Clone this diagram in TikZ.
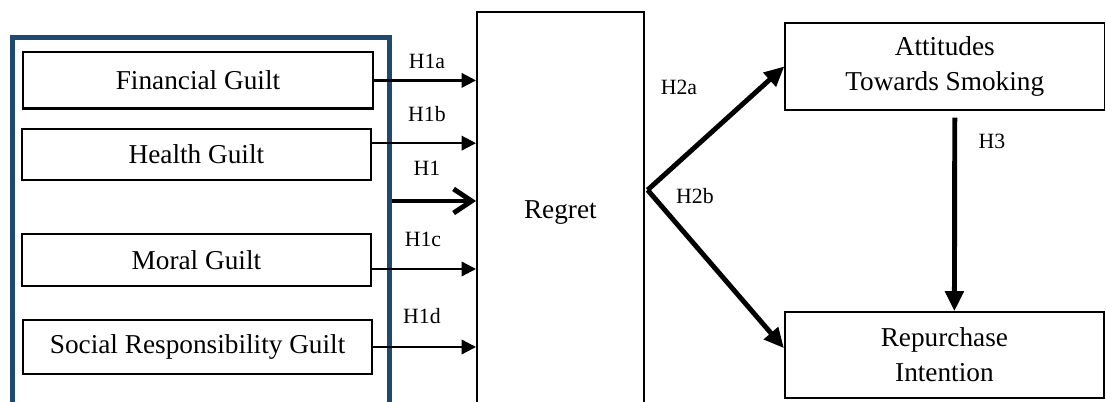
\documentclass[tikz,border=0pt]{standalone}
\usepackage{fontspec}
\setmainfont{Liberation Serif}
\usetikzlibrary{arrows.meta}
\definecolor{framecol}{RGB}{31,73,110}
\begin{document}
\begin{tikzpicture}[
		box/.style={draw, line width=1.2pt, inner sep=0pt, align=center, font=\fontsize{19.4}{25}\selectfont},
		hyp/.style={font=\fontsize{15.5}{18}\selectfont},
		link/.style={line width=1.6pt, -{Triangle[length=0.36cm,width=0.36cm]}},
		mainlink/.style={line width=3.5pt, -{Triangle[length=0.5cm,width=0.45cm]}}]
			\useasboundingbox (0,0) rectangle (27.65,10.05);
			\clip (0,0) rectangle (27.65,10.05);
			\node[draw=framecol, line width=3.5pt, minimum width=9.425cm, minimum height=9.41cm] (guilt) at (5.025,4.41) {};
			\node[box, line width=1.9pt, minimum width=8.75cm, minimum height=1.42cm] (fin) at (4.95,8.04) {Financial Guilt};
			\node[box, minimum width=8.72cm, minimum height=1.27cm] (health) at (4.91,6.19) {Health Guilt};
			\node[box, minimum width=8.72cm, minimum height=1.3cm] (moral) at (4.91,3.55) {Moral Guilt};
			\node[box, minimum width=8.72cm, minimum height=1.35cm] (social) at (4.94,1.375) {Social Responsibility Guilt};
			\node[box, line width=1.4pt, minimum width=4.17cm, minimum height=10.05cm] (regret) at (14.01,4.725) {Regret};
			\node[box, minimum width=7.98cm, minimum height=2.17cm] (att) at (23.62,8.39) {Attitudes\\Towards Smoking};
			\node[box, minimum width=7.98cm, minimum height=2.15cm] (rep) at (23.61,1.175) {Repurchase\\Intention};
			\coordinate (hb) at ([yshift=8pt]health.east);
			\coordinate (mc) at ([yshift=-6.4pt]moral.east);
			\coordinate (h1) at ([yshift=0.615cm]guilt.east);
			\coordinate (fork) at ([xshift=2pt,yshift=0.575cm]regret.east);
			\draw[link] (fin.east) -- (fin.east -| regret.west);
			\draw[link] (hb) -- (hb -| regret.west);
			\draw[line width=3.5pt, -{Straight Barb[length=0.45cm,width=0.6cm]}] (h1) -- (h1 -| regret.west);
			\draw[link] (mc) -- (mc -| regret.west);
			\draw[link] (social.east) -- (social.east -| regret.west);
			\draw[mainlink] (fork) -- (att.west);
			\draw[mainlink] (fork) -- ([yshift=0.17cm]rep.west);
			\draw[mainlink, shorten <=5pt] ([xshift=0.25cm]att.south) -- ([xshift=0.25cm]rep.north);
			\node[hyp] (lh1a) at (10.675, 8.51) {H1a};
			\node[hyp] (lh1b) at (10.675, 7.19) {H1b};
			\node[hyp] (lh1) at (10.675, 5.85) {H1};
			\node[hyp] (lh1c) at (10.575, 4.06) {H1c};
			\node[hyp] (lh1d) at (10.55, 2.15) {H1d};
			\node[hyp] (lh2a) at (16.975, 7.875) {H2a};
			\node[hyp] (lh2b) at (17.375, 5.14) {H2b};
			\node[hyp] (lh3) at (24.8, 6.525) {H3};
		\end{tikzpicture}
\end{document}
